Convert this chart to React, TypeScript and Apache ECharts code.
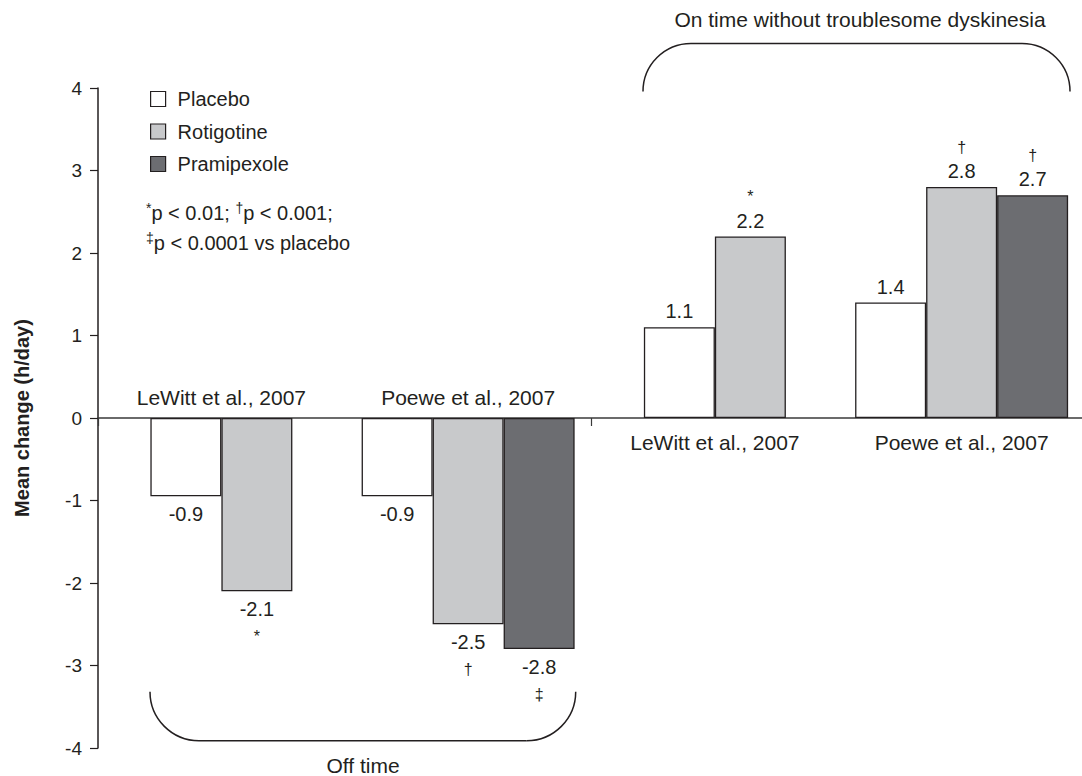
import React, { useEffect, useRef } from 'react';
import * as echarts from 'echarts';

// ---- data ----
const studies = ['LeWitt et al., 2007', 'Poewe et al., 2007', 'LeWitt et al., 2007', 'Poewe et al., 2007'];
const outcomes = ['Off time', 'Off time', 'On time without troublesome dyskinesia', 'On time without troublesome dyskinesia'];
const treatments = ['Placebo', 'Rotigotine', 'Pramipexole'];
const placeboValues: (number | null)[] = [-0.95, -0.95, 1.1, 1.4];
const rotigotineValues: (number | null)[] = [-2.1, -2.5, 2.2, 2.8];
const pramipexoleValues: (number | null)[] = [null, -2.8, null, 2.7];
const placeboLabels = ['-0.9', '-0.9', '1.1', '1.4'];
const rotigotineLabels = ['-2.1', '-2.5', '2.2', '2.8'];
const pramipexoleLabels = ['', '-2.8', '', '2.7'];
const placeboMarks = ['', '', '', ''];
const rotigotineMarks = ['*', '†', '*', '†'];
const pramipexoleMarks = ['', '‡', '', '†'];
const yMin = -4;
const yMax = 4;
const yInterval = 1;
const noteLine1 = ['*', 'p < 0.01; ', '†', 'p < 0.001;'];
const noteLine2 = ['‡', 'p < 0.0001 vs placebo'];

const FONT = '"Liberation Sans", Arial, Helvetica, sans-serif';
const INK = '#231f20';
const COLORS = ['#ffffff', '#c8c9cb', '#6c6d71'];

const categories = studies.map((s, i) => `${outcomes[i]} | ${s}`);
const twoArmIdx = pramipexoleValues.map((v, i) => (v == null ? i : -1)).filter((i) => i >= 0);
const threeArmIdx = pramipexoleValues.map((v, i) => (v != null ? i : -1)).filter((i) => i >= 0);
const labelAbove = outcomes.map((o) => o === 'Off time');

const rich = {
  v: { fontSize: 20, lineHeight: 22, color: INK, fontFamily: FONT },
  mt: { fontSize: 16, lineHeight: 26, color: INK, fontFamily: FONT },
  mb: { fontSize: 16, lineHeight: 32, color: INK, fontFamily: FONT },
};

function makeData(values: (number | null)[], texts: string[], marks: string[], keep: number[]) {
  return values.map((v, i) => {
    if (v == null || keep.indexOf(i) < 0) return '-';
    const neg = v < 0;
    const t = texts[i];
    const m = marks[i];
    const fmt = neg ? (m ? `{v|${t}}\n{mb|${m}}` : `{v|${t}}`) : m ? `{mt|${m}}\n{v|${t}}` : `{v|${t}}`;
    return {
      value: v,
      label: {
        show: true,
        position: neg ? 'bottom' : 'top',
        distance: neg ? 7 : 5,
        formatter: fmt,
        rich,
      },
    };
  });
}

function barSeries(name: string, color: string, axisIndex: number, data: any[]) {
  return {
    type: 'bar',
    name,
    xAxisIndex: axisIndex,
    yAxisIndex: 0,
    barWidth: 71,
    barGap: '0%',
    data,
    itemStyle: { color, borderColor: INK, borderWidth: 1.3 },
  };
}

export default function App() {
  const ref = useRef<HTMLDivElement>(null);
  useEffect(() => {
    if (!ref.current) return;
    const chart = echarts.init(ref.current, null, { renderer: 'svg' });
    const textBase = { fontFamily: FONT, fill: INK };
    const supRich = {
      a: { fontSize: 20, lineHeight: 22, fontFamily: FONT, color: INK },
      s: { fontSize: 14, lineHeight: 14, padding: [0, 0, 10, 0], fontFamily: FONT, color: INK },
    };
    const lineStroke = { stroke: INK, lineWidth: 1.5, fill: 'none' };
    const studyLabelData = studies.map((s, i) => ({
      value: 0,
      label: {
        show: true,
        position: labelAbove[i] ? 'top' : 'bottom',
        distance: labelAbove[i] ? 10 : 13,
        formatter: s,
        fontSize: 21,
        lineHeight: 22,
        color: INK,
        opacity: 1,
        fontFamily: FONT,
      },
    }));
    const option: any = {
      animation: false,
      backgroundColor: '#ffffff',
      grid: { left: 98, right: -3, top: 88, bottom: 28, containLabel: false, outerBoundsMode: 'none' },
      legend: {
        data: treatments,
        orient: 'vertical',
        left: 150,
        top: 89,
        padding: 0,
        itemWidth: 15,
        itemHeight: 15,
        itemGap: 12.5,
        icon: 'rect',
        selectedMode: false,
        itemStyle: { borderColor: INK, borderWidth: 1.2 },
        textStyle: { fontSize: 20, lineHeight: 20, color: INK, fontFamily: FONT, padding: [0, 0, 0, 7] },
      },
      xAxis: [
        {
          type: 'category',
          position: 'bottom',
          data: categories,
          axisLine: { show: true, onZero: true, onZeroAxisIndex: 0, lineStyle: { color: '#3a3a3a', width: 1.5 } },
          axisTick: { show: true, length: 8, lineStyle: { color: '#3a3a3a', width: 1.2 } },
          axisLabel: { show: false },
          splitLine: { show: false },
        },
        {
          type: 'category',
          position: 'top',
          data: categories,
          axisLine: { show: false },
          axisTick: { show: false },
          axisLabel: { show: false },
          splitLine: { show: false },
        },
      ],
      yAxis: {
        type: 'value',
        min: yMin,
        max: yMax,
        interval: yInterval,
        name: 'Mean change (h/day)',
        nameLocation: 'middle',
        nameGap: 66,
        nameTextStyle: { fontSize: 20, fontWeight: 'bold', color: INK, fontFamily: FONT },
        axisLine: { show: true, lineStyle: { color: INK, width: 1.5 } },
        axisTick: { show: true, length: 8, lineStyle: { color: INK, width: 1.2 } },
        axisLabel: { margin: 16, fontSize: 19, color: INK, fontFamily: FONT },
        splitLine: { show: false },
      },
      series: [
        barSeries(treatments[0], COLORS[0], 1, makeData(placeboValues, placeboLabels, placeboMarks, twoArmIdx)),
        barSeries(treatments[1], COLORS[1], 1, makeData(rotigotineValues, rotigotineLabels, rotigotineMarks, twoArmIdx)),
        barSeries(treatments[0], COLORS[0], 0, makeData(placeboValues, placeboLabels, placeboMarks, threeArmIdx)),
        barSeries(treatments[1], COLORS[1], 0, makeData(rotigotineValues, rotigotineLabels, rotigotineMarks, threeArmIdx)),
        barSeries(treatments[2], COLORS[2], 0, makeData(pramipexoleValues, pramipexoleLabels, pramipexoleMarks, threeArmIdx)),
        {
          type: 'scatter',
          name: 'study labels',
          xAxisIndex: 0,
          yAxisIndex: 0,
          symbolSize: 0,
          silent: true,
          itemStyle: { opacity: 1 },
          data: studyLabelData,
          z: 5,
        },
      ],
      graphic: [
        {
          type: 'text',
          x: 860,
          y: 19,
          style: { ...textBase, text: outcomes[2], fontSize: 21, textAlign: 'center', textVerticalAlign: 'middle' },
        },
        { type: 'arc', shape: { cx: 691, cy: 91.5, r: 48, startAngle: Math.PI, endAngle: Math.PI * 1.5 }, style: lineStroke },
        { type: 'line', shape: { x1: 691, y1: 43.5, x2: 1022, y2: 43.5 }, style: lineStroke },
        { type: 'arc', shape: { cx: 1022, cy: 91.5, r: 48, startAngle: Math.PI * 1.5, endAngle: Math.PI * 2 }, style: lineStroke },
        { type: 'arc', shape: { cx: 199, cy: 691.7, r: 49, startAngle: Math.PI * 0.5, endAngle: Math.PI }, style: lineStroke },
        { type: 'line', shape: { x1: 199, y1: 740.7, x2: 526.7, y2: 740.7 }, style: lineStroke },
        { type: 'arc', shape: { cx: 526.7, cy: 691.7, r: 49, startAngle: 0, endAngle: Math.PI * 0.5 }, style: lineStroke },
        {
          type: 'text',
          x: 363,
          y: 765,
          style: { ...textBase, text: outcomes[0], fontSize: 21, textAlign: 'center', textVerticalAlign: 'middle' },
        },
        {
          type: 'text',
          x: 146,
          y: 213,
          style: {
            ...textBase,
            text: `{s|${noteLine1[0]}}{a|${noteLine1[1]}}{s|${noteLine1[2]}}{a|${noteLine1[3]}}`,
            rich: supRich,
            textVerticalAlign: 'middle',
          },
        },
        {
          type: 'text',
          x: 146,
          y: 243,
          style: {
            ...textBase,
            text: `{s|${noteLine2[0]}}{a|${noteLine2[1]}}`,
            rich: supRich,
            textVerticalAlign: 'middle',
          },
        },
      ],
    };
    chart.setOption(option);
    return () => chart.dispose();
  }, []);
  return (
    <div
      ref={ref}
      style={{ position: 'fixed', left: 0, top: 0, width: 1082, height: 776, background: '#fff' }}
    />
  );
}
